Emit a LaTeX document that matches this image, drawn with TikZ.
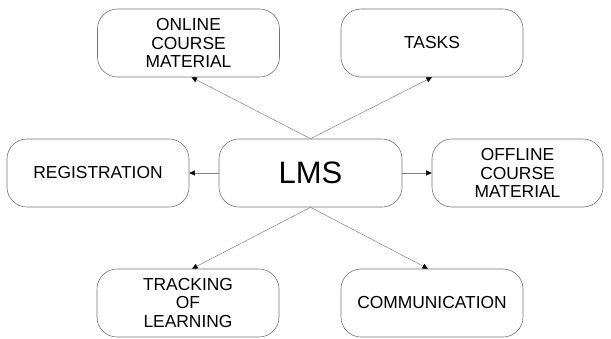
\documentclass[tikz,border=0pt]{standalone}
\usepackage{fontspec}
\setmainfont{Liberation Sans}
\usetikzlibrary{arrows.meta}
\begin{document}
\begin{tikzpicture}[x=1pt,y=-1pt,
  box/.style={draw=black!55, line width=0.6pt, rounded corners=20pt, minimum width=182pt, minimum height=68pt, align=center, font=\fontsize{17.4}{18.3}\selectfont, inner sep=0pt},
  conn/.style={draw=black!50, line width=0.5pt, -{Triangle[length=5.5pt,width=5pt,fill=black,color=black]}}]
\useasboundingbox (0,0) rectangle (611,338);
\node[box] (online) at (188.5,43) {ONLINE\\COURSE\\MATERIAL};
\node[box] (tasks) at (432,43) {TASKS};
\node[box] (reg) at (98,173) {REGISTRATION};
\node[box, minimum width=183pt, font=\fontsize{31}{34}\selectfont] (lms) at (310.5,173) {LMS};
\node[box, minimum width=171pt] (offline) at (517.5,173) {OFFLINE\\COURSE\\MATERIAL};
\node[box] (track) at (188,303) {TRACKING\\OF\\LEARNING};
\node[box] (comm) at (432,303) {COMMUNICATION};
\draw[conn] (lms.north) -- ([xshift=3pt]online.south);
\draw[conn] (lms.north) -- (tasks.south);
\draw[conn] (lms.west) -- (reg.east);
\draw[conn] (lms.east) -- (offline.west);
\draw[conn] (lms.south) -- ([xshift=4pt]track.north);
\draw[conn] (lms.south) -- ([xshift=-4pt]comm.north);
\end{tikzpicture}
\end{document}
